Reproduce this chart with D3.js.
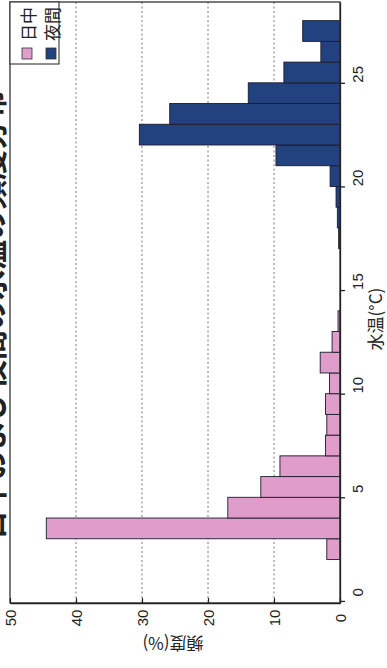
<!DOCTYPE html>
<html>
<head>
<meta charset="utf-8">
<script src="https://cdn.jsdelivr.net/npm/d3@7"></script>
<style>
  html, body { margin: 0; padding: 0; background: #fff; }
  svg { display: block; }
  text { font-family: "Liberation Sans", Arial, sans-serif; fill: #222; }
  .jp { font-family: "Noto Sans CJK JP", sans-serif; }
</style>
</head>
<body>
<svg id="chart" width="387" height="668"></svg>
<script>
// Water temperature frequency distribution, daytime vs night (1 °C bins).
const title = "日中および夜間の水温の頻度分布";
const seriesNames = ["日中", "夜間"];
const dayBins  = [2, 3, 4, 5, 6, 7, 8, 9, 10, 11, 12, 13];
const dayFreq  = [2.0, 44.5, 17.0, 12.0, 9.1, 2.2, 2.0, 2.2, 1.6, 3.0, 1.2, 0.3];
const nightBins = [17, 18, 19, 20, 21, 22, 23, 24, 25, 26, 27];
const nightFreq = [0.2, 0.4, 0.6, 1.5, 9.7, 30.4, 25.8, 13.9, 8.5, 2.9, 5.65];
const tempTicks = [0, 5, 10, 15, 20, 25];
const freqTicks = [0, 10, 20, 30, 40, 50];

const colors = { day: "#e09ccb", night: "#21417f" };

const svg = d3.select("#chart");
const plot = { left: 10, right: 340, top: 2, bottom: 603 };

// The figure is laid on its side: temperature runs bottom→top, frequency right→left.
const x = d3.scaleLinear().domain([50, 0]).range([plot.left, plot.right]);
const y = d3.scaleLinear().domain([-0.1, 28.9]).range([plot.bottom, plot.top]);

// title (sits beyond the left edge of the page, mostly out of view)
svg.append("text")
  .attr("class", "jp")
  .attr("transform", `translate(3, ${y(13.8)}) rotate(-90)`)
  .attr("text-anchor", "middle")
  .style("font-size", "30px")
  .style("font-weight", "bold")
  .text(title);

// dashed gridlines
svg.append("g")
  .selectAll("line")
  .data(freqTicks.filter(d => d > 0 && d < 50))
  .join("line")
  .attr("x1", d => x(d)).attr("x2", d => x(d))
  .attr("y1", plot.top).attr("y2", plot.bottom)
  .attr("stroke", "#7a7a7a")
  .attr("stroke-width", 1)
  .attr("stroke-dasharray", "2,2.5");

function drawBars(bins, freq, fill) {
  svg.append("g")
    .selectAll("rect")
    .data(bins.map((b, i) => ({ b, v: freq[i] })))
    .join("rect")
    .attr("x", d => x(d.v))
    .attr("width", d => x(0) - x(d.v))
    .attr("y", d => y(d.b + 1))
    .attr("height", d => y(d.b) - y(d.b + 1))
    .attr("fill", fill)
    .attr("stroke", "#1c1c2c")
    .attr("stroke-width", 0.9);
}
drawBars(dayBins, dayFreq, colors.day);
drawBars(nightBins, nightFreq, colors.night);

// frame
svg.append("rect")
  .attr("x", plot.left).attr("y", plot.top)
  .attr("width", plot.right - plot.left).attr("height", plot.bottom - plot.top)
  .attr("fill", "none").attr("stroke", "#333").attr("stroke-width", 1.3);

// temperature axis (right side)
const tAxis = svg.append("g")
  .attr("transform", `translate(${plot.right},0)`)
  .call(d3.axisRight(y).tickValues(tempTicks).tickSizeInner(5).tickSizeOuter(0));
tAxis.select(".domain").attr("stroke", "#222").attr("stroke-width", 1.3);
tAxis.selectAll(".tick line").attr("stroke", "#222").attr("stroke-width", 1.3);
tAxis.selectAll(".tick text")
  .attr("x", null).attr("dy", null)
  .attr("transform", "translate(17,-9) rotate(-90)")
  .attr("text-anchor", "middle")
  .attr("dominant-baseline", "central")
  .style("font-size", "15px")
  .style("font-family", "'Liberation Sans', Arial, sans-serif")
  .attr("fill", "#222");

// frequency axis (bottom)
const fAxis = svg.append("g")
  .attr("transform", `translate(0,${plot.bottom})`)
  .call(d3.axisBottom(x).tickValues(freqTicks).tickSizeInner(-5).tickSizeOuter(0));
fAxis.select(".domain").attr("stroke", "#222").attr("stroke-width", 1.3);
fAxis.selectAll(".tick line").attr("stroke", "#222").attr("stroke-width", 1.2);
fAxis.selectAll(".tick text")
  .attr("y", null).attr("dy", null)
  .attr("transform", "translate(0,15) rotate(-90)")
  .attr("text-anchor", "middle")
  .attr("dominant-baseline", "central")
  .style("font-size", "15px")
  .style("font-family", "'Liberation Sans', Arial, sans-serif")
  .attr("fill", "#222");

// axis titles
svg.append("text")
  .attr("class", "jp")
  .attr("transform", `translate(374, ${y(13.6)}) rotate(-90)`)
  .attr("text-anchor", "middle")
  .attr("dominant-baseline", "central")
  .style("font-size", "17px")
  .text("水温(°C)");

svg.append("text")
  .attr("class", "jp")
  .attr("transform", `translate(${x(25) - 2}, 644) rotate(180)`)
  .attr("text-anchor", "middle")
  .attr("dominant-baseline", "central")
  .style("font-size", "17px")
  .text("頻度(%)");

// legend (top-left corner of the rotated frame)
const legend = svg.append("g");
legend.append("rect")
  .attr("x", plot.left).attr("y", plot.top)
  .attr("width", 49).attr("height", 62)
  .attr("fill", "#fff").attr("stroke", "#333").attr("stroke-width", 1.1);
const legendItems = [
  { name: seriesNames[0], color: colors.day, cx: 27 },
  { name: seriesNames[1], color: colors.night, cx: 51 }
];
legendItems.forEach(it => {
  legend.append("rect")
    .attr("x", it.cx - 5).attr("y", 48)
    .attr("width", 10).attr("height", 11)
    .attr("fill", it.color).attr("stroke", "#333").attr("stroke-width", 0.8);
  legend.append("text")
    .attr("class", "jp")
    .attr("transform", `translate(${it.cx}, 24) rotate(-90)`)
    .attr("text-anchor", "middle")
    .attr("dominant-baseline", "central")
    .style("font-size", "17px")
    .text(it.name);
});
</script>
</body>
</html>
